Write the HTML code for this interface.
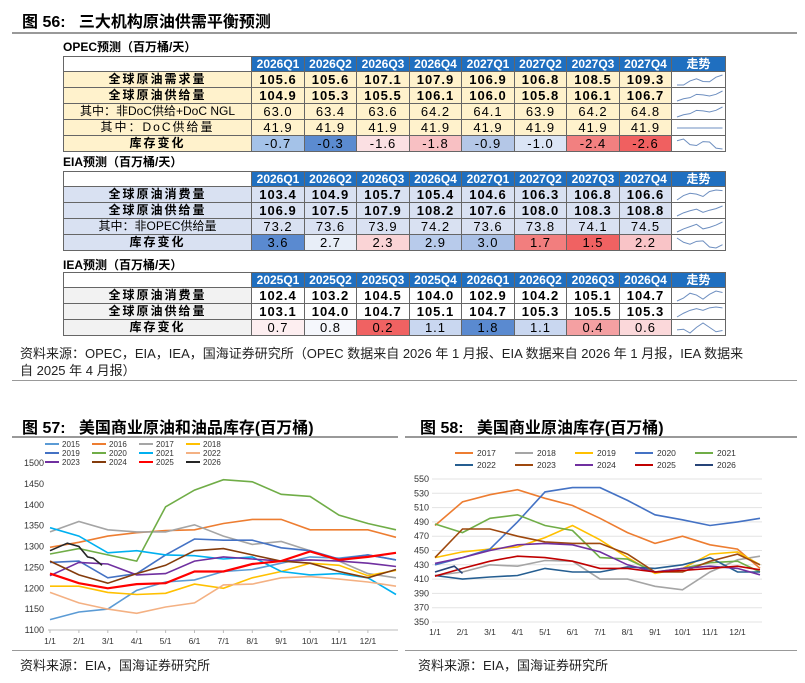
<!DOCTYPE html>
<html><head><meta charset="utf-8">
<style>
body{margin:0;width:805px;height:683px;background:#fff;position:relative;overflow:hidden;font-family:"Liberation Sans","Noto Sans CJK SC",sans-serif;color:#000}
.a{position:absolute;white-space:nowrap}
.c{position:absolute;box-sizing:border-box;border-right:1px solid #666;border-bottom:1px solid #666;text-align:center;font-size:13px;letter-spacing:1px;overflow:hidden}
.t{font-weight:bold;font-size:16px}
.s{font-size:13px;color:#222}
.rule{position:absolute;height:2px;background:#999}
</style></head><body>
<div class="a t" style="left:22px;top:8px">图 56:&nbsp;&nbsp;&nbsp;三大机构原油供需平衡预测</div>
<div class="rule" style="left:12px;top:32px;width:785px"></div>
<div class="a" style="left:63px;top:38px;font-size:12px;font-weight:bold">OPEC预测（百万桶/天）</div>
<div class="a" style="left:63px;top:153px;font-size:12px;font-weight:bold">EIA预测（百万桶/天）</div>
<div class="a" style="left:63px;top:256px;font-size:12px;font-weight:bold">IEA预测（百万桶/天）</div>
<div id="tabs"></div>
<div class="a s" style="left:20px;top:343px">资料来源：OPEC，EIA，IEA，国海证券研究所（OPEC 数据来自 2026 年 1 月报、EIA 数据来自 2026 年 1 月报，IEA 数据来</div>
<div class="a s" style="left:20px;top:360px">自 2025 年 4 月报）</div>
<div class="rule" style="left:12px;top:380px;width:785px;height:1px"></div>

<div class="a t" style="left:22px;top:414px">图 57:&nbsp;&nbsp;&nbsp;美国商业原油和油品库存(百万桶)</div>
<div class="rule" style="left:12px;top:436px;width:386px"></div>
<div class="a t" style="left:420px;top:414px">图 58:&nbsp;&nbsp;&nbsp;美国商业原油库存(百万桶)</div>
<div class="rule" style="left:405px;top:436px;width:392px"></div>
<svg id="ch" class="a" style="left:0;top:0" width="805" height="683"></svg>
<div class="rule" style="left:12px;top:650px;width:386px;height:1px"></div>
<div class="rule" style="left:405px;top:650px;width:392px;height:1px"></div>
<div class="a s" style="left:20px;top:655px">资料来源：EIA，国海证券研究所</div>
<div class="a s" style="left:418px;top:655px">资料来源：EIA，国海证券研究所</div>
<script>
var cx=[63,252,305,357,410,462,515,567,620,672,726];
function table(top,heads,rows,lblBg,dataBg,stock,stockCol,boldRows){
 var h='',y=top,rh=16;
 function cell(x0,x1,y0,hh,txt,st){h+='<div class="c" style="left:'+x0+'px;top:'+y0+'px;width:'+(x1-x0)+'px;height:'+hh+'px;line-height:'+(hh-1)+'px;'+st+'">'+txt+'</div>';}
 cell(cx[0],cx[1],y,rh,'','background:#fff;border-left:1px solid #666;border-top:1px solid #666');
 for(var i=0;i<9;i++)cell(cx[i+1],cx[i+2],y,rh,heads[i],'border-top:1px solid #666;background:#1f6fc0;color:#fff;font-weight:bold;font-size:12px;letter-spacing:0');
 y+=rh;
 rows.forEach(function(r,ri){
  var isS=ri==rows.length-1;
  cell(cx[0],cx[1],y,rh,r[0],'background:'+lblBg+';border-left:1px solid #666;'+(isS||boldRows.indexOf(ri)>=0?'font-weight:bold;':'')+'font-size:12px;letter-spacing:'+(r[0].length<10?2:0)+'px');
  for(var i=0;i<8;i++){
   var bg=isS?stockCol[i]:dataBg;
   cell(cx[i+1],cx[i+2],y,rh,r[1][i],'background:'+bg+';'+(boldRows.indexOf(ri)>=0?'font-weight:bold;':''));
  }
  var v=r[1].map(parseFloat),mn=Math.min.apply(0,v),mx=Math.max.apply(0,v);
  var pts=v.map(function(a,k){return (5+k*6.5)+','+(mx==mn?8:(13-(a-mn)/(mx-mn)*10))}).join(' ');
  cell(cx[9],cx[10],y,rh,'<svg width="54" height="16" style="display:block"><polyline points="'+pts+'" fill="none" stroke="#6e8fc0" stroke-width="1"/></svg>','background:#fff');
  y+=rh;
 });
 return h;
}
var q1=['2026Q1','2026Q2','2026Q3','2026Q4','2027Q1','2027Q2','2027Q3','2027Q4','走势'];
var q2=['2025Q1','2025Q2','2025Q3','2025Q4','2026Q1','2026Q2','2026Q3','2026Q4','走势'];
var H='';
H+=table(56,q1,[
 ['全球原油需求量','105.6 105.6 107.1 107.9 106.9 106.8 108.5 109.3'.split(' ')],
 ['全球原油供给量','104.9 105.3 105.5 106.1 106.0 105.8 106.1 106.7'.split(' ')],
 ['其中：非DoC供给+DoC NGL','63.0 63.4 63.6 64.2 64.1 63.9 64.2 64.8'.split(' ')],
 ['其中：DoC供给量','41.9 41.9 41.9 41.9 41.9 41.9 41.9 41.9'.split(' ')],
 ['库存变化','-0.7 -0.3 -1.6 -1.8 -0.9 -1.0 -2.4 -2.6'.split(' ')]
],'#fff2cc','#fff2cc',1,['#a4c2e8','#5b8bd0','#fbe0e3','#f8c0c3','#b4c7e7','#dbe5f5','#f28080','#f06060'],[0,1]);
H+=table(171,q1,[
 ['全球原油消费量','103.4 104.9 105.7 105.4 104.6 106.3 106.8 106.6'.split(' ')],
 ['全球原油供给量','106.9 107.5 107.9 108.2 107.6 108.0 108.3 108.8'.split(' ')],
 ['其中：非OPEC供给量','73.2 73.6 73.9 74.2 73.6 73.8 74.1 74.5'.split(' ')],
 ['库存变化','3.6 2.7 2.3 2.9 3.0 1.7 1.5 2.2'.split(' ')]
],'#d9e1f2','#d9e1f2',1,['#5a8ad0','#e8eef8','#fad4d6','#b8cbeb','#a9c0e6','#f27e7e','#f06262','#f9c4c7'],[0,1]);
H+=table(272,q2,[
 ['全球原油消费量','102.4 103.2 104.5 104.0 102.9 104.2 105.1 104.7'.split(' ')],
 ['全球原油供给量','103.1 104.0 104.7 105.1 104.7 105.3 105.5 105.3'.split(' ')],
 ['库存变化','0.7 0.8 0.2 1.1 1.8 1.1 0.4 0.6'.split(' ')]
],'#f2f2f2','#fff',1,['#fdeef0','#f5f7fc','#f06262','#c9d7f0','#5a8ad0','#c9d7f0','#f4a0a2','#fbd8da'],[0,1]);
document.getElementById('tabs').innerHTML=H;

var S='';
function T(x,y,t,sz,anc){S+='<text x="'+x+'" y="'+y+'" font-size="'+(sz||9)+'" fill="#333" text-anchor="'+(anc||'middle')+'" font-family="Liberation Sans,sans-serif">'+t+'</text>';}
var mons=['1/1','2/1','3/1','4/1','5/1','6/1','7/1','8/1','9/1','10/1','11/1','12/1'];
(function(){
 var x0=50,st=28.9,y0=630,k=167/400;
 function Y(v){return y0-(v-1100)*k}
 for(var v=1100;v<=1500;v+=50)T(44,Y(v)+3,v,9,'end');
 S+='<line x1="48" y1="630" x2="398" y2="630" stroke="#bbb"/>';
 mons.forEach(function(m,i){T(x0+i*st,644,m,8.5);S+='<line x1="'+(x0+i*st)+'" y1="630" x2="'+(x0+i*st)+'" y2="633" stroke="#bbb"/>'});
 var d=[
 ['2015','#5b9bd5',[1125,1143,1150,1195,1215,1220,1240,1245,1260,1275,1272,1280,1268]],
 ['2016','#ed7d31',[1298,1310,1325,1333,1338,1340,1355,1365,1365,1340,1340,1340,1322]],
 ['2017','#a5a5a5',[1335,1360,1340,1335,1335,1352,1325,1305,1312,1290,1265,1235,1225]],
 ['2018','#ffc000',[1205,1205,1190,1185,1188,1210,1200,1225,1240,1260,1255,1230,1243]],
 ['2019','#4472c4',[1262,1265,1225,1235,1280,1318,1315,1315,1297,1290,1270,1280,1268]],
 ['2020','#70ad47',[1282,1295,1280,1265,1395,1435,1460,1455,1425,1420,1375,1355,1340]],
 ['2021','#00b0f0',[1345,1325,1285,1290,1280,1278,1270,1275,1240,1232,1235,1225,1185]],
 ['2022','#f4b183',[1190,1165,1150,1140,1155,1165,1208,1210,1225,1228,1222,1215,1205]],
 ['2023','#7030a0',[1230,1262,1258,1232,1235,1265,1275,1270,1265,1268,1265,1260,1252]],
 ['2024','#843c0c',[1265,1232,1212,1235,1255,1290,1295,1280,1265,1260,1240,1225,1245]],
 ['2025','#ff0000',[1235,1212,1200,1210,1212,1240,1240,1258,1265,1288,1268,1275,1285]],
 ['2026','#262626',null]];
 d.forEach(function(s,i){
  var lx=45+(i%4)*47,ly=444+Math.floor(i/4)*9;
  S+='<line x1="'+lx+'" y1="'+ly+'" x2="'+(lx+14)+'" y2="'+ly+'" stroke="'+s[1]+'" stroke-width="2"/>';T(lx+17,ly+3,s[0],8,'start');
  var p;
  if(s[2])p=s[2].map(function(v,j){return (j<12?x0+j*st:396)+','+Y(v).toFixed(1)}).join(' ');
  else p=[[1290,0],[1308,0.6],[1300,1],[1275,1.3],[1272,1.5],[1255,1.8]].map(function(a){return (x0+a[1]*st)+','+Y(a[0]).toFixed(1)}).join(' ');
  S+='<polyline points="'+p+'" fill="none" stroke="'+s[1]+'" stroke-width="'+(s[0]=='2025'?2.2:1.6)+'"/>';
 });
})();
(function(){
 var x0=435,st=27.5,y0=622,k=143/200;
 function Y(v){return y0-(v-350)*k}
 for(var v=350;v<=550;v+=20){T(429,Y(v)+3,v,9,'end');S+='<line x1="432" y1="'+Y(v)+'" x2="762" y2="'+Y(v)+'" stroke="#e3e3e3"/>';}
 mons.forEach(function(m,i){T(x0+i*st,635,m,8.5)});
 var d=[
 ['2017','#ed7d31',[485,518,528,535,523,513,495,475,460,470,458,452,425]],
 ['2018','#a5a5a5',[415,420,430,428,436,435,410,410,400,395,420,437,442]],
 ['2019','#ffc000',[440,448,452,455,468,485,465,440,418,425,445,448,430]],
 ['2020','#4472c4',[430,440,452,490,532,538,538,520,500,493,485,490,495]],
 ['2021','#70ad47',[487,475,495,500,485,478,440,438,420,425,433,435,420]],
 ['2022','#255e91',[415,410,413,415,425,420,420,427,425,430,440,420,420]],
 ['2023','#9e480e',[440,480,480,470,462,460,460,445,420,420,435,445,430]],
 ['2024','#7030a0',[432,440,450,458,460,458,448,430,420,425,428,425,416]],
 ['2025','#c00000',[414,425,435,442,440,435,425,425,420,422,425,428,423]],
 ['2026','#264478',null]];
 d.forEach(function(s,i){
  var lx=455+(i%5)*60,ly=453+Math.floor(i/5)*12;
  S+='<line x1="'+lx+'" y1="'+ly+'" x2="'+(lx+18)+'" y2="'+ly+'" stroke="'+s[1]+'" stroke-width="2"/>';T(lx+22,ly+3,s[0],8.5,'start');
  var p;
  if(s[2])p=s[2].map(function(v,j){return (j<12?x0+j*st:760)+','+Y(v).toFixed(1)}).join(' ');
  else p=[[420,0],[428,0.7],[418,1]].map(function(a){return (x0+a[1]*st)+','+Y(a[0]).toFixed(1)}).join(' ');
  S+='<polyline points="'+p+'" fill="none" stroke="'+s[1]+'" stroke-width="1.6"/>';
 });
})();
document.getElementById('ch').innerHTML=S;
</script>
</body></html>
